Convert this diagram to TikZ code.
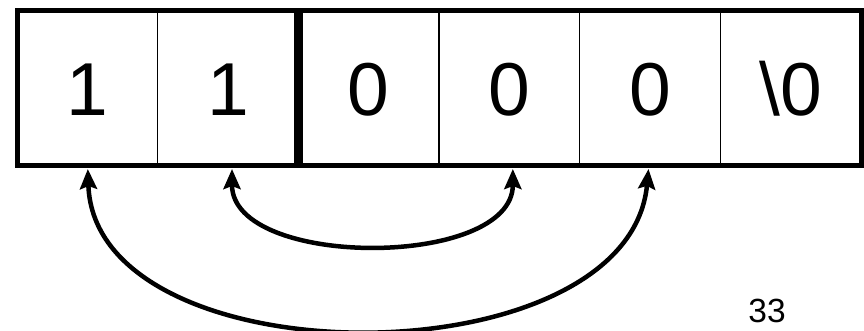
\documentclass[tikz,border=0pt]{standalone}
\usepackage{fontspec}
\setmainfont{Liberation Sans}
\usetikzlibrary{arrows.meta}
\begin{document}
\begin{tikzpicture}[x=1pt,y=-1pt,
  cell/.style={draw, line width=1.3pt, minimum width=140.67pt, minimum height=155pt,
    inner sep=0pt, outer sep=0pt, font=\fontsize{75}{80}\selectfont,
    text height=54pt, text depth=0pt, anchor=west},
  frame/.style={line width=5pt},
  divider/.style={line width=9pt},
  link/.style={line width=4.5pt,
    {Stealth[length=20pt,width=17pt,inset=3pt]}-{Stealth[length=20pt,width=17pt,inset=3pt]}},
  pagenum/.style={font=\fontsize{33.5}{36}\selectfont, anchor=base, inner sep=0pt}]
\useasboundingbox (0,0) rectangle (864,331);
\node[cell] (c1) at (17,88.5) {1};
\node[cell] (c2) at (c1.east) {1};
\node[cell] (c3) at (c2.east) {0};
\node[cell] (c4) at (c3.east) {0};
\node[cell] (c5) at (c4.east) {0};
\node[cell] (c6) at (c5.east) {\textbackslash 0};
\draw[frame] (c1.north west) rectangle (c6.south east);
\draw[divider] (c2.north east) -- (c2.south east);
\draw[link] ([xshift=4pt,yshift=-3pt]c2.south) .. controls +(0,100) and +(0,100) .. ([xshift=3.5pt,yshift=-3pt]c4.south);
\draw[link] ([xshift=0.5pt,yshift=-3pt]c1.south) .. controls +(7,213) and +(-20,213) .. ([xshift=-1.5pt,yshift=-3pt]c5.south);
\node[pagenum] (pg) at (767,322) {33};
\end{tikzpicture}
\end{document}
